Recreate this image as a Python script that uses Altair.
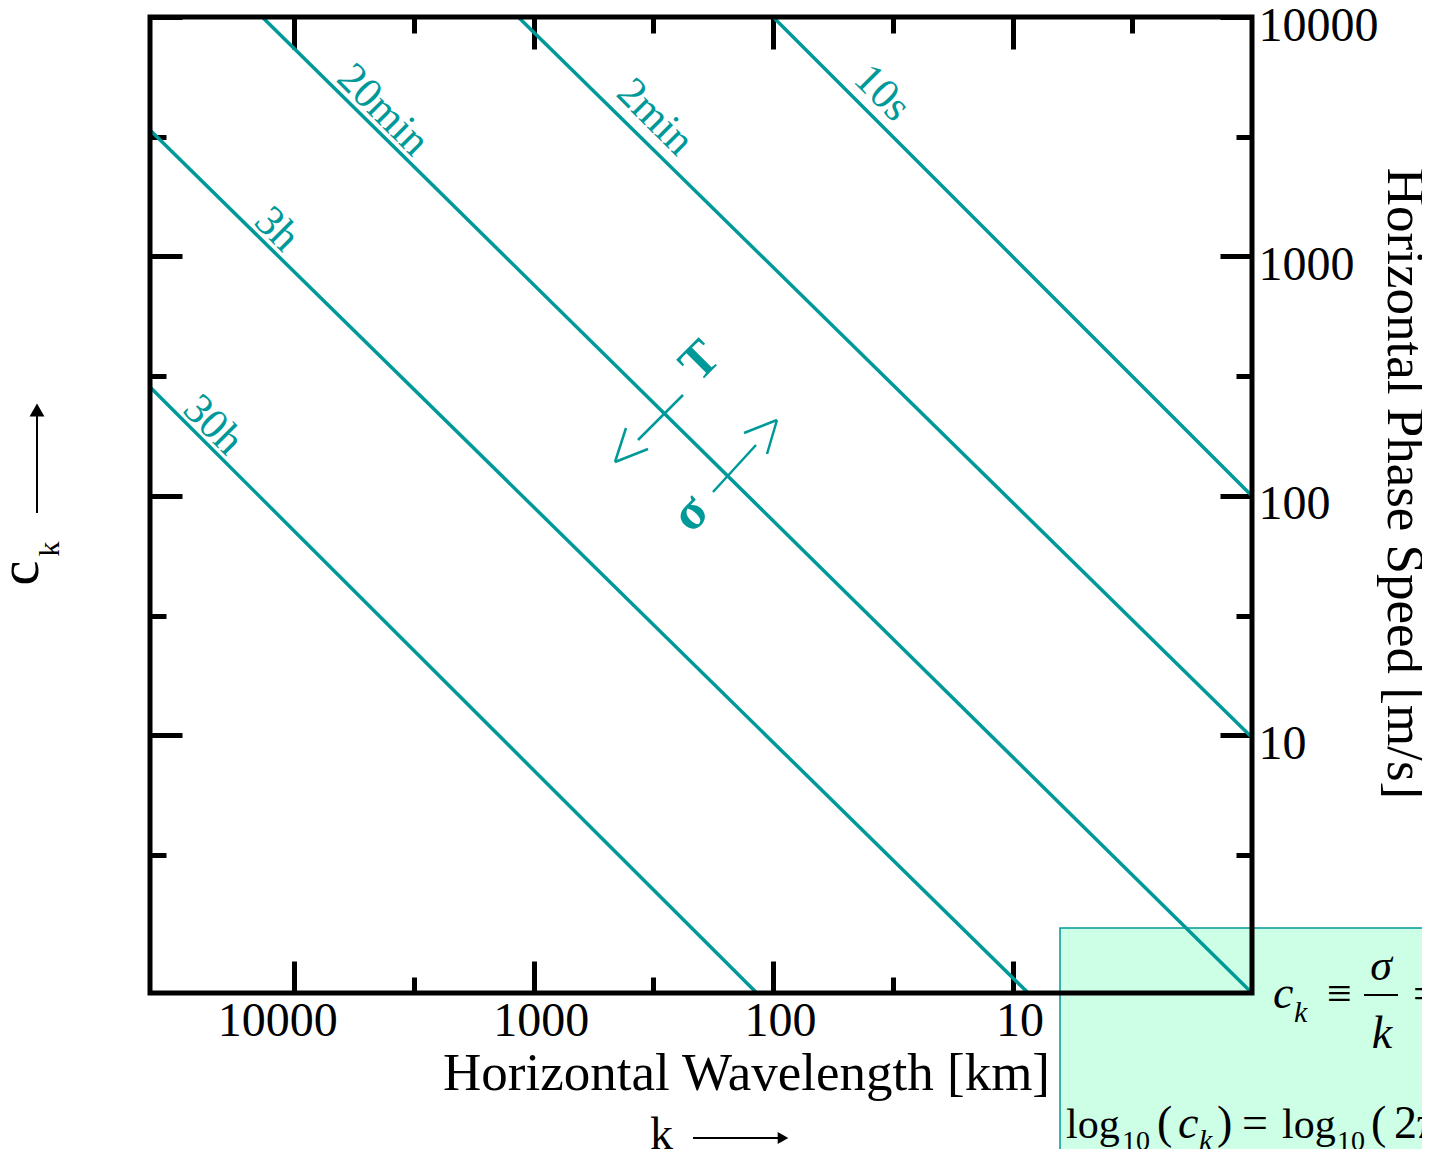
import altair as alt
import pandas as pd

# ---------------- data ----------------
periods = ["10s", "2min", "20min", "3h", "30h"]
start_wavelength_km = [100, 1160, 13600, 40000, 40000]
start_speed_ms = [10000, 10000, 10000, 3370, 285]
end_wavelength_km = [1, 1, 1, 8.6, 117]
end_speed_ms = [100, 9.8, 0.84, 0.84, 0.84]
label_wavelength_km = [35, 311, 4250, 11800, 21800]
label_speed_ms = [4820, 3820, 4090, 1300, 198]

wavelength_major = [10000, 1000, 100, 10]
wavelength_minor = [3162, 316.2, 31.62, 3.162]
speed_major = [10000, 1000, 100, 10]
speed_minor = [3162, 316.2, 31.62, 3.162]

wavelength_domain = [1, 40000]
speed_domain = [0.84, 10000]

lines = pd.DataFrame({
    "period": periods,
    "start_wavelength_km": start_wavelength_km,
    "start_speed_ms": start_speed_ms,
    "end_wavelength_km": end_wavelength_km,
    "end_speed_ms": end_speed_ms,
    "label_wavelength_km": label_wavelength_km,
    "label_speed_ms": label_speed_ms,
})

# ---------------- styling / layout ----------------
SERIF = "Liberation Serif"
TEAL = "#009999"
W, H = 1102, 976
PAD = {"left": 142, "top": 9, "right": 170, "bottom": 156}
OX, OY = 8 + PAD["left"], 8 + PAD["top"]   # page position of plot origin
MAJ, MIN = 32, 16

xs = alt.Scale(type="log", domain=wavelength_domain, reverse=True, nice=False)
ys = alt.Scale(type="log", domain=speed_domain, nice=False)


def ticks_axis(orient, values, size, **kw):
    opts = dict(orient=orient, values=values, tickSize=size, offset=-size,
                labels=False, title=None)
    opts.update(kw)
    return alt.Axis(**opts)


x_bottom_major = ticks_axis(
    "bottom", wavelength_major, MAJ, labels=True, format="d",
    labelFontSize=48, labelPadding=4, labelBaseline="top", labelAlign="center",
    labelOffset={"condition": {"test": "datum.value == 10000", "value": -17},
                 "value": 7},
    title="Horizontal Wavelength [km]", titleFontSize=53,
    titleX=596, titleY=128, titleAlign="center", titleBaseline="alphabetic")
x_bottom_minor = ticks_axis("bottom", wavelength_minor, MIN)
x_top_major = ticks_axis("top", wavelength_major, MAJ)
x_top_minor = ticks_axis("top", wavelength_minor, MIN)

y_right_major = ticks_axis(
    "right", speed_major, MAJ, labels=True, format="d",
    labelFontSize=48, labelPadding=6, labelAlign="left", labelBaseline="middle",
    labelOffset=9,
    title="Horizontal Phase Speed [m/s]", titleFontSize=53, titleAngle=90,
    titleX=167, titleY=466, titleAlign="center", titleBaseline="alphabetic")
y_right_minor = ticks_axis("right", speed_minor, MIN)
y_left_major = ticks_axis("left", speed_major, MAJ)
y_left_minor = ticks_axis("left", speed_minor, MIN)

base = alt.Chart(lines)

period_lines = base.mark_rule(color=TEAL, strokeWidth=3.5).encode(
    x=alt.X("start_wavelength_km:Q", scale=xs, axis=x_bottom_major),
    y=alt.Y("start_speed_ms:Q", scale=ys, axis=y_right_major),
    x2="end_wavelength_km:Q",
    y2="end_speed_ms:Q",
)

period_labels = base.mark_text(
    font=SERIF, fontSize=43, angle=45, color=TEAL, align="center", baseline="middle"
).encode(
    x=alt.X("label_wavelength_km:Q", scale=xs, axis=x_bottom_minor),
    y=alt.Y("label_speed_ms:Q", scale=ys, axis=y_right_minor),
    text="period:N",
)

ghost_a = base.mark_point(opacity=0).encode(
    x=alt.X("start_wavelength_km:Q", scale=xs, axis=x_top_major),
    y=alt.Y("start_speed_ms:Q", scale=ys, axis=y_left_major),
)
ghost_b = base.mark_point(opacity=0).encode(
    x=alt.X("end_wavelength_km:Q", scale=xs, axis=x_top_minor),
    y=alt.Y("end_speed_ms:Q", scale=ys, axis=y_left_minor),
)

one = alt.Data(values=[{"a": 0}])


def note(text, x, y, size, **kw):
    opts = dict(text=text, font=SERIF, fontSize=size, color="black",
                align="left", baseline="alphabetic")
    opts.update(kw)
    return alt.Chart(one).mark_text(**opts).encode(
        x=alt.value(x - OX), y=alt.value(y - OY))


def seg(x1, y1, x2, y2, color="black", width=2.0):
    return alt.Chart(one).mark_rule(color=color, strokeWidth=width).encode(
        x=alt.value(x1 - OX), y=alt.value(y1 - OY),
        x2=alt.value(x2 - OX), y2=alt.value(y2 - OY))


def head(x, y, shape, size):
    return alt.Chart(one).mark_point(shape=shape, filled=True, color="black",
                                     size=size, opacity=1).encode(
        x=alt.value(x - OX), y=alt.value(y - OY))


formula_box = alt.Chart(one).mark_rect(
    fill="#ccffe5", stroke=TEAL, strokeWidth=1.5).encode(
    x=alt.value(1060 - OX), y=alt.value(928 - OY),
    x2=alt.value(1480 - OX), y2=alt.value(1200 - OY))

frame = alt.Chart(one).mark_rect(
    fillOpacity=0, stroke="black", strokeWidth=5).encode(
    x=alt.value(0), y=alt.value(0), x2=alt.value(W), y2=alt.value(H))

annotations = [
    # T / sigma with the crossing arrows
    note("T", 700, 361, 50, angle=315, fontWeight="bold", color=TEAL,
         align="center", baseline="middle"),
    note("σ", 690, 513, 52, angle=315, fontWeight="bold", color=TEAL,
         align="center", baseline="middle"),
    seg(683, 395, 638, 440, TEAL, 2.5),
    seg(615, 462, 626, 428, TEAL, 2.5),
    seg(615, 462, 648, 449, TEAL, 2.5),
    seg(713, 492, 756, 445, TEAL, 2.5),
    seg(777, 420, 744, 433, TEAL, 2.5),
    seg(777, 420, 767, 454, TEAL, 2.5),
    # c_k arrow on the left
    note("c", 38, 573, 56, angle=270, align="center"),
    note("k", 59, 549, 30, angle=270, align="center"),
    seg(37, 513, 37, 414),
    head(37, 410, "triangle-up", 220),
    # k arrow at the bottom
    note("k", 650, 1149, 46),
    seg(693, 1138, 779, 1138),
    head(783, 1138, "triangle-right", 150),
    # formula in the box
    note("c", 1273, 1008, 46, fontStyle="italic"),
    note("k", 1294, 1022, 30, fontStyle="italic"),
    note("≡", 1327, 1008, 44),
    note("σ", 1381, 980, 44, fontStyle="italic", align="center"),
    seg(1364, 995, 1398, 995, "black", 2),
    note("k", 1382, 1048, 46, fontStyle="italic", align="center"),
    note("=", 1413, 1008, 44),
    note("log", 1066, 1138, 42),
    note("10", 1122, 1150, 28),
    note("(", 1157, 1138, 46),
    note("c", 1178, 1138, 46, fontStyle="italic"),
    note("k", 1199, 1150, 30, fontStyle="italic"),
    note(")", 1217, 1138, 46),
    note("=", 1242, 1138, 46),
    note("log", 1282, 1138, 42),
    note("10", 1337, 1150, 28),
    note("(", 1371, 1138, 46),
    note("2π", 1394, 1138, 46),
]

chart = alt.layer(
    formula_box, period_lines, period_labels, ghost_a, ghost_b,
    *annotations, frame,
).resolve_axis(
    x="independent", y="independent"
).properties(
    width=W, height=H,
    autosize=alt.AutoSizeParams(type="none"),
    padding=PAD,
).configure_view(
    stroke="transparent"
).configure_axis(
    labelFont=SERIF, titleFont=SERIF, labelColor="black", titleColor="black",
    titleFontWeight="normal", tickColor="black", tickWidth=5, domain=False,
    grid=False, zindex=1, labelFlush=False,
)

chart.save("out.html", embed_options={"renderer": "svg", "actions": False})
